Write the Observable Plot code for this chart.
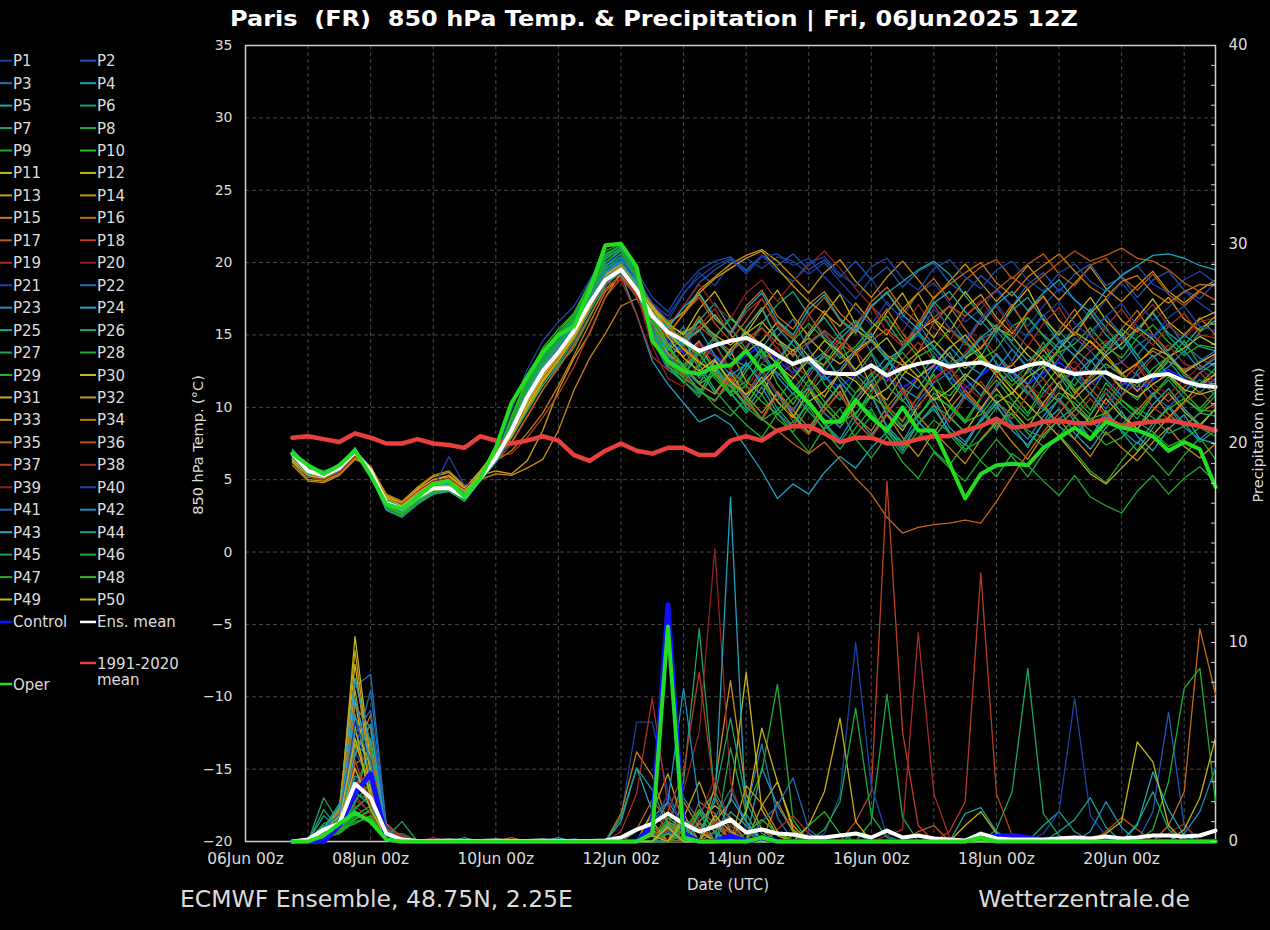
<!DOCTYPE html>
<html>
<head>
<meta charset="utf-8">
<script src="https://cdn.jsdelivr.net/npm/d3@7"></script>
<script src="https://cdn.jsdelivr.net/npm/@observablehq/plot@0.6"></script>
<style>
  html, body { margin:0; padding:0; background:#000; }
  #chart { position:relative; width:1270px; height:930px; background:#000; overflow:hidden; }
  #chart > svg { position:absolute; left:0; top:0; }
</style>
</head>
<body>
<div id="chart"></div>
<script>
// ---------------- DATA ----------------
// 6-hourly steps from 06Jun2025 18z (index 0) to 21Jun2025 12z (index 59)
const startTime = "2025-06-06T18:00Z";
const stepHours = 6;
const dateTicks = ["2025-06-06","2025-06-08","2025-06-10","2025-06-12","2025-06-14","2025-06-16","2025-06-18","2025-06-20"];
const tempTicks = [-20,-15,-10,-5,0,5,10,15,20,25,30,35];
const precipTicks = [0,10,20,30,40];

const memberNames = ["P1","P2","P3","P4","P5","P6","P7","P8","P9","P10","P11","P12","P13","P14","P15","P16","P17","P18","P19","P20",
  "P21","P22","P23","P24","P25","P26","P27","P28","P29","P30","P31","P32","P33","P34","P35","P36","P37","P38","P39","P40",
  "P41","P42","P43","P44","P45","P46","P47","P48","P49","P50"];

// 850 hPa temperature of each member (°C)
const T01 = [6.6,5.5,5.2,5.6,7.0,5.7,3.3,2.8,3.7,4.5,4.6,4.0,5.2,6.6, 8.6,10.8,12.6,14.0,15.6,17.5,19.2,19.9, 19.0,17.2,16.0,17.8,19.3,18.4,19.9,20.3,19.6,20.4, 20.1,19.2,20.0,18.7,17.5,18.9,17.1,16.2,17.9,18.6, 17.2,15.9,16.8,18.1,16.9,15.6,17.0,18.2,17.5,16.1, 17.4,18.6,17.3,16.0,16.9,18.0,17.2,16.4];
const T02 = [6.9,5.7,5.4,5.9,7.1,5.5,3.1,2.7,3.4,4.1,4.4,3.7,5.0,6.3, 8.2,10.4,12.4,13.9,15.5,17.6,19.5,20.3, 19.2,16.8,15.4,17.0,18.6,19.5,20.2,19.4,20.5,19.8, 20.6,19.5,20.2,19.0,20.1,18.8,19.7,18.3,19.4,20.0, 18.6,17.8,19.1,18.2,17.0,18.5,19.3,18.0,19.2,19.9, 18.4,19.0,17.6,18.8,19.4,18.1,17.5,18.6];
const T03 = [6.4,5.3,5.1,5.8,6.8,5.8,3.6,3.2,4.0,4.8,5.0,4.2,5.4,6.9, 9.0,11.4,13.2,14.6,16.0,17.8,19.6,20.1, 18.5,15.9,14.2,15.6,13.1,14.8,16.3,15.0,13.4,14.9, 16.1,14.0,12.5,13.9,15.6,13.8,12.2,14.1,15.8,14.2, 13.0,14.6,16.0,14.8,13.2,15.1,16.4,14.7,13.5,15.2, 16.3,15.0,13.6,14.9,15.8,14.3,13.4,12.8];
const T04 = [6.7,5.6,5.3,5.7,6.9,5.6,3.4,2.9,3.8,4.3,4.5,3.9,5.1,6.5, 8.3,10.6,12.4,13.6,15.0,16.9,18.6,19.4, 17.8,14.9,13.0,12.2,14.1,12.6,11.0,12.8,14.0,12.1, 10.9,12.4,13.7,11.8,10.5,12.2,13.5,11.3,10.6,12.5, 13.8,12.0,10.8,12.6,14.0,12.7,11.2,10.4,12.1,13.3, 11.9,10.8,12.5,13.6,12.2,11.0,12.4,13.1];
const T05 = [6.8,5.6,5.2,5.6,6.8,5.5,3.5,3.1,3.9,4.4,4.3,3.7,5.0,6.4, 8.1,10.2,12.0,13.5,15.1,17.0,18.9,19.6, 18.0,15.6,13.9,14.8,12.6,11.0,12.5,10.6,9.2,11.0, 9.5,8.3,10.2,11.6,9.4,8.1,9.6,11.1,9.0,7.9, 9.3,10.9,9.8,8.4,10.1,11.5,10.0,8.7,7.8,9.5, 11.0,9.6,8.5,10.2,11.3,9.9,8.8,9.9];
const T06 = [6.5,5.4,5.3,5.9,7.0,5.9,3.7,3.2,4.1,4.7,4.9,4.1,5.4,6.9, 9.1,11.5,13.4,14.7,16.0,17.9,19.8,20.4, 18.8,16.2,15.0,14.1,16.0,17.2,15.5,14.0,15.8,17.1, 18.0,16.4,14.8,13.9,15.7,17.0,15.9,14.3,15.6,17.3, 16.1,14.6,13.5,15.3,16.7,17.6,16.0,14.5,15.0,16.8, 15.5,14.0,15.4,16.6,14.9,13.8,15.2,16.0];
const T07 = [6.9,5.7,5.4,5.8,7.0,5.5,3.2,2.8,3.6,4.3,4.4,3.8,5.2,6.6, 8.7,11.1,12.9,14.2,15.7,17.8,20.0,20.9, 19.2,15.4,13.5,14.2,12.0,13.3,11.6,10.2,11.8,9.9, 8.7,10.5,9.0,7.6,9.1,10.8,8.6,7.3,8.8,10.2, 8.1,6.9,8.5,10.0,8.8,7.2,9.0,10.6,9.4,7.8, 9.8,8.3,7.0,8.6,10.1,8.9,7.6,8.4];
const T08 = [6.6,5.5,5.3,5.7,6.9,5.7,3.5,3.0,3.8,4.6,4.7,4.0,5.3,6.7, 9.3,11.8,13.6,14.9,16.1,18.2,20.4,21.1, 19.6,15.9,14.0,15.3,12.8,14.4,12.6,11.5,13.6,14.8, 12.7,11.4,13.0,14.6,12.3,11.1,12.8,14.2,15.3,13.4, 11.9,13.2,14.9,13.0,11.8,12.9,14.5,12.4,11.5,13.1, 14.4,15.2,13.6,12.1,13.3,14.6,12.9,12.3];
const T09 = [7.0,5.8,5.5,6.0,7.2,5.3,2.9,2.5,3.4,4.0,4.2,3.6,5.0,6.4, 8.9,11.4,13.3,14.6,15.9,18.0,20.2,21.0, 19.3,15.2,12.8,11.7,13.0,11.2,9.9,8.8,7.9,9.6, 8.2,6.9,8.6,9.9,7.8,6.5,8.0,6.2,5.1,6.9, 5.8,4.9,6.4,7.8,6.6,5.2,6.8,8.1,6.9,5.6, 4.8,6.3,7.6,6.5,5.3,6.7,7.9,6.4];
const T10 = [6.8,5.6,5.3,5.8,7.0,5.6,3.3,2.9,3.7,4.4,4.5,3.9,5.2,6.6, 9.4,12.0,14.1,15.4,16.5,18.6,21.1,21.4, 19.8,14.9,12.8,12.1,13.8,12.0,10.9,12.5,13.9,11.6, 10.2,11.9,10.4,9.2,11.0,12.4,10.1,9.0,10.8,12.3, 10.3,9.1,10.7,12.2,11.0,9.6,11.4,12.8,11.2,9.8, 11.7,10.5,9.5,10.9,12.1,11.0,9.9,11.1];
const T11 = [6.3,5.2,5.1,5.7,6.7,5.9,3.8,3.4,4.3,5.0,5.3,4.4,5.6,7.0, 8.8,11.0,12.7,14.0,15.5,17.4,19.3,20.0, 18.7,17.1,15.6,14.5,15.3,16.4,15.0,13.8,14.6,15.9, 14.8,13.5,12.9,14.2,15.4,14.6,13.3,14.0,15.3,16.0, 14.7,13.4,14.1,15.5,14.9,13.6,12.8,14.0,15.2,14.5, 13.6,14.4,15.5,14.7,13.5,14.1,14.9,14.3];
const T12 = [6.6,5.5,5.3,5.8,7.0,5.7,3.4,3.0,3.9,4.6,4.7,4.0,5.3,6.7, 8.5,10.6,12.4,13.8,15.3,17.3,19.2,19.9, 18.9,16.9,15.8,15.0,16.8,18.0,16.2,15.1,16.7,18.1, 16.3,14.9,16.4,17.8,15.7,14.8,16.6,17.9,16.0,14.8, 16.5,18.0,16.6,15.2,16.9,18.2,16.1,15.0,16.3,17.6, 16.0,14.9,16.2,17.5,15.9,15.0,16.1,16.6];
const T13 = [6.2,5.0,4.9,5.4,6.5,5.8,3.9,3.4,4.4,5.2,5.5,4.5,5.3,5.6, 5.4,6.3,8.4,11.2,13.4,15.1,17.6,19.3, 18.4,16.3,14.4,13.5,14.6,12.3,13.9,11.8,10.9,12.9, 14.0,12.0,10.7,12.4,13.8,11.4,10.5,12.2,13.6,11.3, 10.4,12.0,13.5,12.2,10.9,12.6,14.0,12.5,11.0,12.2, 13.6,12.4,11.1,12.3,13.5,12.4,11.4,12.3];
const T14 = [6.7,5.5,5.2,5.7,6.9,5.6,3.4,3.0,3.8,4.4,4.5,3.8,5.1,6.5, 8.2,10.3,12.1,13.6,15.1,17.1,18.9,19.7, 18.6,17.0,15.9,16.5,18.1,19.0,19.9,20.5,20.9,20.1, 19.0,17.9,19.3,20.2,18.7,17.6,19.0,20.1,18.8,17.5, 18.7,19.9,18.6,17.3,18.5,19.8,18.5,17.4,18.6,19.7, 18.2,17.3,18.4,19.4,18.0,17.2,18.1,18.8];
const T15 = [6.9,5.7,5.4,5.9,7.1,5.4,3.1,2.6,3.5,4.1,4.3,3.7,5.0,6.3, 7.0,8.2,9.6,11.5,13.6,15.8,18.0,19.1, 17.9,15.0,13.3,12.5,11.2,10.4,12.0,10.6,9.2,11.1, 9.8,8.6,10.1,11.5,9.3,8.4,10.0,11.3,9.4,8.2, 9.9,11.2,10.0,8.6,10.1,11.6,10.2,8.8,9.8,11.0, 9.6,8.5,9.8,11.0,9.5,8.7,9.6,10.3];
const T16 = [6.5,5.3,5.1,5.6,6.8,5.8,3.6,3.1,4.0,4.7,4.9,4.1,5.3,6.7, 8.0,10.0,11.9,13.4,15.0,17.0,18.8,19.5, 18.3,16.5,15.3,14.5,16.3,14.8,13.6,15.5,16.9,14.7, 13.5,15.2,16.7,15.0,13.6,15.4,16.8,15.1,13.8,15.9, 17.0,15.4,14.0,15.6,17.1,15.3,13.9,15.3,16.8,15.0, 13.8,15.4,16.7,15.0,13.9,15.0,16.2,15.0];
const T17 = [6.8,5.6,5.3,5.8,7.0,5.6,3.3,2.9,3.7,4.3,4.4,3.8,5.1,6.5, 8.4,10.5,12.4,13.8,15.4,17.3,19.0,19.8, 18.2,16.1,15.0,16.5,17.6,15.8,14.6,16.0,17.5,15.6, 14.7,16.4,17.6,16.0,15.1,16.9,18.0,16.5,17.9,18.9, 17.4,18.8,19.7,20.2,18.9,19.9,20.6,19.2,18.4,19.8, 20.3,19.0,18.1,19.2,17.8,17.0,18.0,17.4];
const T18 = [6.4,5.2,5.0,5.5,6.6,5.7,3.7,3.3,4.2,4.9,5.1,4.3,5.2,6.2, 7.5,9.3,11.2,12.8,14.4,16.3,18.2,19.1, 17.6,15.3,13.8,12.9,14.5,12.8,11.6,10.9,12.6,11.0, 9.8,11.5,10.0,8.9,10.6,11.9,10.0,9.1,10.8,12.0, 12.8,11.0,9.9,11.5,12.6,11.1,10.0,11.7,12.7,11.3, 10.2,11.8,12.9,11.3,10.4,11.4,12.4,11.3];
const T19 = [6.7,5.5,5.2,5.7,6.9,5.6,3.4,3.0,3.8,4.5,4.6,3.9,5.1,6.5, 8.1,10.1,11.9,13.4,15.0,16.9,18.7,19.6, 18.4,15.6,13.1,12.7,14.3,13.5,12.6,14.2,15.5,14.0, 12.9,12.1,13.6,14.8,13.9,12.5,11.8,13.3,14.5,13.2, 12.4,13.8,14.9,13.6,12.3,12.9,14.2,13.5,12.6,13.9, 14.6,13.1,12.2,13.4,14.3,13.0,12.6,13.6];
const T20 = [6.6,5.4,5.2,5.7,6.9,5.7,3.5,3.0,3.9,4.5,4.7,4.0,5.2,6.6, 8.3,10.4,12.2,13.6,15.2,17.2,19.1,19.8, 18.9,16.8,15.6,17.0,18.5,17.0,16.1,17.9,18.8,17.3, 18.7,19.8,20.8,19.6,18.2,17.0,16.0,15.2,17.1,15.5, 14.6,16.3,17.4,16.0,14.9,16.5,17.6,16.0,15.0,16.6, 15.3,14.6,16.0,17.1,15.6,14.8,15.9,16.2];
const T21 = [6.8,5.6,5.4,5.9,7.0,5.5,3.2,2.8,3.6,4.3,4.4,3.8,5.1,6.5, 9.8,12.6,14.6,15.9,17.0,18.8,20.6,21.0, 19.4,17.6,16.6,18.3,19.5,20.1,20.4,19.5,20.5,19.4, 18.7,20.0,20.4,19.2,18.4,19.7,20.3,18.9,18.1,19.6, 20.2,19.0,18.2,19.5,20.1,18.8,18.0,19.3,19.9,18.7, 18.0,19.2,19.8,18.5,17.9,18.8,19.4,18.6];
const T22 = [6.5,5.4,5.2,5.8,6.9,5.8,3.6,3.1,4.0,4.7,4.9,4.1,5.4,6.8, 9.2,11.6,13.4,14.7,16.0,17.9,19.6,20.1, 18.6,16.4,15.9,14.2,13.1,12.4,13.8,14.9,13.5,12.2, 13.0,14.4,15.2,13.6,12.5,11.7,13.0,14.1,15.0,13.8, 12.6,13.5,14.7,15.3,14.0,12.8,12.0,13.4,14.8,13.9, 12.7,13.1,14.3,15.0,13.7,12.5,13.2,13.9];
const T23 = [6.9,5.7,5.4,5.8,7.0,5.5,3.3,2.8,3.7,4.2,4.3,3.7,5.0,6.4, 8.6,10.9,12.7,14.0,15.4,17.3,19.1,19.8, 18.1,14.7,12.6,11.8,10.9,12.8,11.0,9.8,11.4,9.6, 8.6,10.5,8.9,7.8,9.6,10.9,8.7,7.6,9.5,10.6, 8.6,7.6,9.2,10.5,8.9,7.8,9.4,10.6,9.0,7.9, 9.5,8.4,7.5,8.9,10.0,8.6,7.8,8.7];
const T24 = [6.7,5.5,5.3,5.7,6.8,5.6,3.4,3.0,3.9,4.4,4.5,3.9,5.1,6.5, 8.5,10.8,12.6,13.9,15.3,17.1,18.6,19.2, 16.4,13.2,11.6,10.3,9.0,9.5,8.8,7.2,5.6,3.7, 4.7,4.0,5.5,6.6,5.8,7.2,8.3,7.0,8.9,9.9, 8.3,7.4,9.1,10.2,8.4,7.4,8.9,9.9,8.2,7.1, 8.6,9.7,8.0,7.0,8.5,9.5,7.8,7.5];
const T25 = [6.4,5.3,5.1,5.7,6.8,5.8,3.7,3.2,4.1,4.8,5.0,4.2,5.4,6.8, 8.9,11.2,13.0,14.3,15.8,17.6,19.4,20.1, 18.7,16.4,15.0,14.3,16.1,14.6,13.6,15.5,16.8,14.7, 13.6,15.1,16.2,14.7,15.8,17.0,17.9,18.7,19.5,20.1, 19.2,17.7,16.4,15.5,14.6,16.2,15.0,14.1,15.5,16.5, 15.0,14.0,15.4,16.5,15.1,14.3,15.5,16.0];
const T26 = [7.0,5.8,5.5,6.0,7.2,5.4,3.0,2.6,3.4,4.1,4.3,3.7,5.1,6.5, 8.0,9.9,11.5,12.9,14.1,16.2,18.4,19.4, 18.0,15.2,13.6,12.6,14.0,12.7,11.4,13.1,11.6,10.5, 12.0,13.6,11.6,10.5,12.2,13.7,11.5,10.4,12.0,13.5, 11.8,10.6,12.3,13.7,12.0,10.9,12.6,13.9,12.1,10.9, 12.6,11.4,10.5,12.0,13.2,11.9,11.0,12.0];
const T27 = [6.6,5.5,5.3,5.8,6.9,5.7,3.5,3.0,3.8,4.5,4.6,4.0,5.3,6.7, 9.0,11.5,13.4,14.8,16.2,18.2,20.3,21.0, 19.2,15.2,13.1,12.3,11.0,12.9,11.4,10.1,11.8,10.4, 9.3,10.9,12.2,10.8,9.5,11.2,12.4,10.5,9.3,11.0, 10.0,8.9,10.6,11.9,10.5,9.4,11.0,12.2,10.6,9.5, 11.3,10.2,9.2,10.8,11.9,10.6,9.7,10.8];
const T28 = [6.9,5.7,5.4,5.9,7.1,5.5,3.1,2.6,3.5,4.2,4.4,3.7,5.1,6.5, 9.1,11.6,13.5,14.9,16.3,18.4,20.6,21.2, 19.4,15.0,12.9,11.8,10.7,12.5,11.0,9.6,10.9,9.2, 8.3,10.0,8.4,7.1,8.6,9.9,8.0,6.8,8.4,7.0, 6.0,7.5,6.3,5.2,6.8,6.0,4.9,3.9,5.3,3.8, 3.2,2.7,4.2,5.3,4.0,5.1,5.9,4.8];
const T29 = [6.5,5.4,5.2,5.7,6.8,5.8,3.6,3.1,4.0,4.6,4.8,4.1,5.3,6.7, 8.7,11.0,12.9,14.3,15.7,17.6,19.6,20.3, 18.8,16.6,15.9,14.4,13.6,14.9,16.1,15.2,13.8,13.1, 14.6,15.8,14.7,13.4,14.2,15.5,16.3,14.8,13.5,14.1, 15.4,14.5,13.3,14.0,15.6,16.2,14.9,13.8,14.4,15.5, 14.2,13.4,14.8,15.7,14.5,13.6,14.3,14.1];
const T30 = [6.8,5.6,5.3,5.8,7.0,5.6,3.4,2.9,3.7,4.4,4.5,3.8,5.1,6.5, 8.0,10.0,11.8,13.2,14.8,16.8,18.7,19.5, 18.1,15.4,13.7,12.8,11.7,13.2,11.8,10.6,12.1,10.4, 9.3,11.2,9.6,8.6,10.2,11.6,9.5,8.4,10.1,11.4, 9.3,8.3,9.9,11.3,9.8,8.6,10.3,11.7,10.0,8.9, 10.6,9.4,8.5,9.8,11.0,9.7,8.7,9.9];
const T31 = [6.3,5.2,5.0,5.6,6.7,5.9,3.8,3.3,4.3,5.0,5.2,4.4,5.5,6.9, 8.4,10.5,12.3,13.7,15.2,17.2,19.1,19.9, 18.5,16.8,15.7,15.1,15.9,15.0,14.3,15.1,15.9,14.7, 13.9,14.8,13.7,13.0,13.9,14.7,13.6,12.9,13.8,14.6, 13.5,12.7,13.6,12.5,11.3,10.2,9.1,8.0,6.7,5.4, 4.7,5.8,6.9,8.1,9.3,10.4,11.6,12.3];
const T32 = [6.7,5.5,5.3,5.8,6.9,5.6,3.4,3.0,3.8,4.5,4.6,4.0,5.2,6.6, 7.9,9.8,11.7,13.2,14.8,16.8,18.7,19.6, 18.7,16.8,15.7,16.6,17.9,18.9,19.6,20.3,20.8,19.6, 18.4,17.3,16.5,15.6,17.2,15.9,15.0,16.8,17.9,16.1, 15.2,16.9,17.8,16.2,15.1,16.6,17.7,16.0,15.0,16.5, 17.5,16.0,15.2,16.6,17.6,16.1,15.3,16.3];
const T33 = [6.0,4.9,4.8,5.3,6.4,5.9,4.0,3.5,4.5,5.3,5.6,4.6,5.0,5.4, 5.3,5.8,6.4,8.4,11.2,13.4,15.1,17.0, 17.5,15.8,14.1,12.8,11.6,10.9,12.4,10.8,9.6,11.0, 9.4,8.2,9.8,11.1,9.0,7.9,9.5,7.9,6.6,8.3, 7.2,6.1,7.8,9.0,7.6,6.4,8.1,9.2,7.8,6.6, 8.3,7.2,6.3,7.6,8.6,7.3,6.5,7.5];
const T34 = [6.9,5.7,5.4,5.9,7.1,5.5,3.2,2.7,3.6,4.2,4.4,3.7,5.0,6.4, 8.3,10.4,12.2,13.6,15.2,17.2,19.0,19.8, 18.4,16.2,15.1,16.4,17.8,16.1,15.2,17.0,18.1,16.3, 15.4,17.1,18.0,16.5,15.5,17.3,18.3,16.8,15.8,17.6, 18.5,19.3,20.0,18.6,17.7,19.0,19.8,20.6,19.4,18.3, 17.6,18.7,19.1,17.9,17.2,18.0,18.5,18.4];
const T35 = [6.5,5.3,5.1,5.6,6.7,5.8,3.6,3.2,4.1,4.8,5.0,4.2,5.3,6.6, 7.6,9.4,11.2,12.7,14.3,16.3,18.2,19.1, 17.9,16.0,14.8,14.1,13.2,12.3,11.4,10.3,9.2,8.4, 7.5,6.8,7.6,6.4,5.1,4.0,2.4,1.3,1.7,1.9, 2.0,2.2,2.0,3.5,5.2,6.8,8.3,9.6,10.9,12.1, 13.0,12.3,13.1,13.9,13.2,12.6,13.1,13.7];
const T36 = [6.8,5.6,5.3,5.7,6.9,5.6,3.4,2.9,3.7,4.4,4.5,3.9,5.1,6.5, 8.2,10.3,12.1,13.5,15.1,17.0,18.9,19.7, 18.3,16.5,15.4,14.8,15.6,14.7,13.9,14.7,15.5,14.4, 13.7,14.5,15.3,14.4,13.7,14.6,15.4,14.5,15.3,16.2, 17.0,16.3,17.2,18.1,19.0,18.2,19.1,20.0,20.8,20.1, 20.5,21.0,20.3,20.1,19.5,18.6,18.0,17.4];
const T37 = [6.6,5.4,5.2,5.7,6.8,5.7,3.5,3.1,3.9,4.6,4.7,4.0,5.2,6.6, 6.8,7.9,9.3,10.9,12.8,15.2,17.6,18.9, 17.7,14.9,13.1,12.2,11.1,10.4,12.2,10.4,9.1,10.9, 9.0,8.1,9.8,11.0,9.0,7.9,9.6,10.9,12.0,10.2, 9.0,10.7,11.8,10.3,9.2,10.9,12.0,10.4,9.3,10.6, 9.4,10.8,11.7,10.0,9.2,10.3,11.1,10.0];
const T38 = [6.4,5.2,5.0,5.5,6.6,5.8,3.7,3.3,4.2,4.9,5.1,4.3,5.4,6.8, 8.6,10.9,12.6,14.0,15.5,17.3,18.5,18.8, 16.4,13.5,12.6,14.1,15.6,16.8,15.0,16.6,17.5,15.8, 14.8,16.4,15.0,14.1,15.8,17.0,15.2,14.2,15.9,17.1, 15.4,14.3,16.0,17.0,15.3,14.2,15.8,16.9,15.1,14.1, 15.6,16.8,15.3,14.3,15.6,16.5,15.0,14.8];
const T39 = [6.7,5.5,5.3,5.8,6.9,5.6,3.3,2.9,3.7,4.4,4.5,3.9,5.1,6.5, 8.1,10.2,12.0,13.5,15.0,16.9,18.6,19.3, 17.9,14.2,12.0,11.4,13.2,14.3,12.5,11.3,13.0,14.2, 12.2,11.0,12.9,14.0,12.0,10.9,12.7,11.0,9.9,11.8, 12.8,11.5,10.6,12.2,13.1,11.6,10.7,12.3,13.2,11.8, 10.9,12.3,13.1,11.6,10.9,11.9,12.8,11.7];
const T40 = [6.8,5.7,5.4,5.9,7.1,5.6,3.3,2.8,3.6,4.4,6.6,4.6,4.9,6.2, 8.5,10.7,12.5,14.0,15.6,17.5,19.3,20.0, 18.9,17.2,16.3,17.9,19.0,19.8,20.3,19.2,20.4,20.6, 19.8,20.3,19.0,17.9,16.8,15.7,17.3,16.0,15.0,16.8, 15.5,14.6,16.2,17.2,15.6,14.9,16.3,17.3,15.8,14.9, 16.3,17.2,15.6,14.9,16.2,17.0,15.6,15.3];
const T41 = [6.5,5.3,5.1,5.6,6.8,5.8,3.6,3.2,4.0,4.7,4.9,4.1,5.3,6.7, 9.0,11.4,13.2,14.5,15.9,17.8,19.7,20.3, 18.9,15.4,13.5,12.6,11.6,13.4,11.8,10.7,12.4,10.8, 9.7,11.5,9.6,8.6,10.5,11.8,9.6,8.6,10.4,11.7, 12.4,10.7,9.7,11.4,12.5,11.0,9.8,11.6,12.5,10.9, 9.9,11.5,12.3,10.8,10.0,11.1,11.9,10.8];
const T42 = [6.9,5.7,5.4,5.8,7.0,5.5,3.2,2.8,3.6,4.3,4.4,3.8,5.1,6.5, 8.7,11.0,12.8,14.2,15.6,17.5,19.3,20.0, 18.6,15.1,13.4,14.5,15.4,13.6,12.2,13.0,11.8,13.3, 14.7,13.1,11.9,12.6,14.0,15.1,13.4,12.1,11.3,12.9, 14.2,13.0,12.3,13.7,12.5,11.6,13.2,14.5,13.6,12.4, 13.8,14.9,13.3,12.0,12.8,13.9,12.6,13.4];
const T43 = [6.6,5.4,5.2,5.7,6.8,5.7,3.5,3.1,3.9,4.6,4.7,4.0,5.2,6.6, 8.4,10.6,12.4,13.8,15.3,17.2,19.0,19.7, 18.4,16.6,15.5,16.9,17.9,16.2,15.1,16.8,17.9,16.0, 15.0,16.8,17.8,16.1,15.2,17.0,17.9,16.4,15.4,17.2, 18.0,16.6,15.7,17.1,18.0,16.7,17.9,18.8,17.4,16.6, 18.1,19.1,19.8,20.5,20.6,20.3,19.8,19.5];
const T44 = [7.1,5.9,5.6,6.0,7.2,5.3,2.9,2.4,3.3,4.0,4.2,3.5,4.9,6.2, 7.9,9.7,11.5,13.0,14.6,16.6,18.5,19.4, 18.1,15.2,13.9,14.8,16.0,14.9,13.4,12.8,14.1,15.5, 14.3,13.0,13.8,15.1,16.0,14.6,13.3,14.0,15.2,14.1, 12.9,13.6,14.8,15.7,14.4,13.2,14.1,15.3,14.0,13.1, 14.2,15.4,14.6,13.5,14.0,15.0,14.2,13.9];
const T45 = [6.5,5.4,5.2,5.7,6.8,5.8,3.6,3.1,4.0,4.7,4.8,4.1,5.3,6.7, 8.9,11.3,13.1,14.4,15.9,17.8,19.8,20.6, 18.9,16.0,14.4,12.6,11.1,10.5,11.6,10.0,9.1,9.8, 11.0,9.7,8.5,9.2,10.4,9.6,8.3,7.6,8.9,10.1, 9.4,8.2,9.0,10.3,9.5,8.4,7.9,9.2,10.0,9.1, 8.1,8.8,9.9,9.3,8.2,8.7,9.6,9.4];
const T46 = [6.8,5.6,5.3,5.8,7.0,5.6,3.3,2.9,3.7,4.4,4.5,3.8,5.2,6.6, 9.2,11.7,13.6,15.0,16.4,18.4,20.5,21.2, 19.5,16.3,14.1,12.9,13.7,12.2,11.1,11.8,13.0,12.4, 11.2,12.6,13.5,12.1,11.0,11.8,12.9,13.8,12.5,11.3, 10.8,12.1,13.3,12.6,11.5,12.4,13.6,12.3,11.2,11.9, 13.0,12.2,11.4,12.7,13.5,12.2,11.6,12.7];
const T47 = [6.7,5.5,5.3,5.8,6.9,5.7,3.4,3.0,3.8,4.5,4.6,3.9,5.2,6.6, 9.0,11.4,13.2,14.6,16.0,18.0,20.0,20.8, 19.0,15.9,13.1,12.0,11.3,10.1,9.4,10.6,9.2,8.3, 9.0,10.2,8.8,7.5,8.1,9.4,8.5,7.2,7.9,9.1, 8.3,7.1,7.7,8.9,9.6,8.2,7.3,8.0,9.3,8.4, 7.4,7.9,9.0,8.3,7.3,7.8,8.6,8.0];
const T48 = [6.9,5.7,5.4,5.9,7.0,5.5,3.2,2.7,3.6,4.2,4.4,3.7,5.1,6.4, 9.3,11.9,13.8,15.2,16.5,18.6,20.8,21.3, 19.6,16.4,14.2,12.9,11.6,12.3,10.8,11.5,10.4,9.5, 10.6,11.3,10.0,8.9,9.6,10.8,9.9,8.7,9.4,10.7, 10.1,9.0,9.5,10.9,10.2,9.1,9.8,11.0,10.3,9.2, 9.6,10.5,9.7,8.9,9.9,10.6,9.8,9.7];
const T49 = [6.4,5.3,5.1,5.7,6.8,5.8,3.7,3.2,4.1,4.8,5.0,4.2,5.4,6.8, 8.3,10.3,12.1,13.5,15.0,17.0,18.9,19.7, 18.2,16.6,14.9,13.4,12.5,13.3,11.8,10.9,11.7,12.8, 11.6,10.4,11.1,12.4,11.8,10.6,11.3,12.6,11.9,10.5, 11.2,12.3,11.5,10.3,11.0,12.1,12.8,11.4,10.6,11.7, 12.5,11.3,10.7,11.6,12.3,11.2,10.9,11.2];
const T50 = [6.7,5.5,5.2,5.7,6.9,5.6,3.4,3.0,3.8,4.5,4.6,3.9,5.2,6.6, 8.0,10.1,11.9,13.3,14.9,16.9,18.8,19.6, 18.3,16.9,15.2,14.0,13.1,12.5,14.0,15.2,14.3,12.9, 12.0,13.3,14.6,13.8,12.6,13.9,14.8,13.2,12.1,12.9, 14.1,15.0,13.7,12.4,12.9,14.2,13.3,12.1,13.5,14.6, 13.4,12.3,13.0,14.1,13.6,12.4,13.1,13.7];

const controlTemp = [6.8,5.6,5.3,5.8,7.0,5.6,3.2,2.8,3.7,4.4,4.5,3.9,5.2,6.6, 8.8,11.2,13.0,14.4,15.8,17.8,19.9,20.6, 19.0,16.2,14.6,13.8,14.5,13.6,12.8,13.6,14.3,13.2, 12.4,13.2,12.1,11.4,12.3,13.0,12.0,11.3,12.1,12.9, 12.0,11.3,12.2,13.0,12.3,11.6,12.4,13.1,12.3,11.6, 12.4,11.8,11.2,11.9,12.6,12.0,11.4,11.9];
const meanTemp = [6.8,5.6,5.3,5.8,6.9,5.6,3.4,3.0,3.8,4.4, 4.4,3.8,5.1,6.5,8.4,10.7,12.5,13.8,15.3,17.2, 18.8,19.5,18.1,16.3,15.2,14.6,13.9,14.3,14.6,14.8, 14.3,13.6,13.0,13.4,12.4,12.3,12.3,12.9,12.2,12.7, 13.0,13.2,12.8,13.0,13.1,12.7,12.5,12.9,13.1,12.6, 12.3,12.4,12.4,11.9,11.8,12.2,12.3,11.8,11.5,11.4];
const operTemp = [6.8,6.0,5.4,6.0,7.0,5.3,3.3,3.0,3.8,4.7,4.9,3.8,5.1,7.2, 10.3,12.1,13.8,15.0,15.6,18.1,21.2,21.3, 19.7,14.6,13.2,12.5,12.3,12.8,12.9,13.9,12.5,13.0, 11.4,10.3,9.0,9.0,10.5,9.3,8.4,10.0,8.4,8.4, 6.1,3.7,5.4,6.0,6.1,6.0,7.2,7.9,8.6,7.8, 9.0,8.6,8.4,8.0,7.0,7.6,7.1,4.5];
const climTemp = [7.9,8.0,7.8,7.6,8.2,7.9,7.5,7.5,7.8,7.5, 7.4,7.2,8.0,7.7,7.5,7.7,8.0,7.7,6.7,6.3, 7.0,7.5,7.0,6.8,7.2,7.2,6.7,6.7,7.7,8.0, 7.7,8.4,8.7,8.7,8.2,7.6,7.9,7.9,7.5,7.5, 7.8,8.0,8.0,8.4,8.7,9.2,8.6,8.7,9.0,9.1, 8.9,8.9,9.2,8.7,8.9,9.0,9.1,8.9,8.7,8.4];

// Precipitation (mm per 6 h) of each member, listed as [step, value]; other steps are 0
const R01 = [[2,.3],[3,.9],[4,3.2],[5,2.0],[6,.3],[21,1.2],[22,6.0],[23,6.0],[24,2.5],[25,.6],[27,.4],[44,.3]];
const R02 = [[2,.5],[3,1.2],[4,4.5],[5,3.0],[6,.2],[24,1.0],[25,.5],[28,.8],[55,1.5],[56,6.5],[57,.8]];
const R03 = [[2,.2],[3,1.5],[4,7.8],[5,8.4],[6,.8],[7,.1],[25,2.2],[26,1.0],[29,1.5],[30,4.9],[31,1.2],[33,.4]];
const R04 = [[2,.4],[3,.8],[4,5.5],[5,3.8],[6,.4],[22,.5],[23,1.2],[24,2.0],[25,.8],[30,3.7],[31,1.8],[32,.5]];
const R05 = [[1,.1],[2,.6],[3,1.4],[4,4.9],[5,4.2],[6,.2],[17,.2],[21,1.0],[22,3.7],[23,1.5],[24,.6],[28,.4]];
const R06 = [[2,1.3],[3,.6],[4,2.5],[5,1.8],[6,.2],[7,.1],[23,.6],[26,1.4],[27,2.5],[28,1.0],[48,.8],[49,1.5],[50,.5]];
const R07 = [[2,2.2],[3,.9],[4,1.6],[5,2.4],[6,.1],[24,.8],[25,3.0],[26,10.7],[27,2.2],[28,.5],[36,.4]];
const R08 = [[2,.8],[3,.5],[4,1.9],[5,5.2],[6,.3],[7,.4],[23,.3],[26,.9],[37,1.0],[38,7.4],[39,1.2]];
const R09 = [[2,.3],[3,.4],[4,1.2],[5,1.5],[6,.2],[24,.5],[29,1.6],[30,3.5],[31,7.9],[32,1.1]];
const R10 = [[2,.2],[3,.6],[4,1.4],[5,1.0],[6,.1],[24,.6],[28,.3],[32,.3]];
const R11 = [[2,.5],[3,1.1],[4,10.3],[5,4.0],[6,.5],[23,.4],[26,1.0],[27,1.8],[28,1.2],[29,.5]];
const R12 = [[2,.7],[3,1.6],[4,8.9],[5,3.2],[6,.3],[24,.4],[27,1.0],[28,2.0],[29,8.5],[30,1.6],[31,.3]];
const R13 = [[2,.6],[3,1.3],[4,7.6],[5,2.7],[6,.4],[23,1.5],[24,3.4],[25,.9],[30,1.8],[31,3.0],[32,.8]];
const R14 = [[2,.4],[3,1.7],[4,6.2],[5,5.0],[6,.6],[23,.6],[25,1.4],[27,2.8],[28,8.1],[29,2.4],[30,.6]];
const R15 = [[2,.3],[3,1.2],[4,8.2],[5,4.6],[6,.2],[21,1.4],[22,4.5],[23,3.3],[24,.9],[25,.3],[31,2.0],[32,.5]];
const R16 = [[2,.5],[3,.9],[4,4.3],[5,6.4],[6,.9],[7,.2],[14,.2],[25,.5],[27,1.1],[56,.8],[57,2.5],[58,10.7],[59,7.4]];
const R17 = [[2,.2],[3,.7],[4,3.6],[5,2.2],[6,.3],[24,.7],[26,1.6],[27,.9],[40,.5],[41,.8]];
const R18 = [[2,.4],[3,.8],[4,2.9],[5,1.9],[6,.5],[7,.3],[23,.5],[26,1.0],[36,1.0],[37,2.5],[38,18.1],[39,5.5],[40,.8]];
const R19 = [[2,.3],[3,1.1],[4,2.3],[5,1.4],[6,.2],[21,.5],[22,2.4],[23,7.2],[24,1.8],[25,.4],[31,.6],[32,1.3],[33,.4]];
const R20 = [[2,.2],[3,.5],[4,1.8],[5,1.1],[6,.6],[7,.2],[24,.8],[25,2.6],[26,5.5],[27,14.7],[28,3.0],[29,.6]];
const R21 = [[2,.3],[3,.6],[4,5.1],[5,3.4],[6,.3],[24,.5],[34,.4],[35,2.3],[36,10.0],[37,2.8],[38,.3]];
const R22 = [[2,.5],[3,1.0],[4,4.6],[5,7.6],[6,.7],[23,.4],[27,1.2],[28,2.6],[29,1.0],[31,.5]];
const R23 = [[2,.4],[3,.9],[4,6.4],[5,3.1],[6,.2],[25,1.1],[26,.6],[57,.4],[58,1.5],[59,3.7]];
const R24 = [[2,.6],[3,1.8],[4,8.2],[5,4.9],[6,.3],[24,1.0],[25,.6],[26,.5],[27,2.0],[28,17.3],[29,1.0]];
const R25 = [[2,.3],[3,1.0],[4,3.3],[5,2.8],[6,.2],[24,.6],[28,1.5],[29,.8],[43,1.4],[44,1.7],[45,.5]];
const R26 = [[2,.9],[3,1.2],[4,2.6],[5,4.8],[6,.4],[7,.1],[24,.4],[27,2.3],[28,6.2],[29,2.0],[30,.4]];
const R27 = [[2,.4],[3,.7],[4,1.7],[5,2.3],[6,.2],[23,.3],[28,4.7],[29,1.4],[31,.5]];
const R28 = [[2,.2],[3,.5],[4,1.1],[5,1.6],[6,.1],[25,.3],[55,.6],[56,3.0],[57,7.7],[58,8.7],[59,2.0]];
const R29 = [[2,.3],[3,.6],[4,.9],[5,1.3],[6,.1],[24,1.2],[25,.6],[33,.8],[34,1.5],[35,.4]];
const R30 = [[2,.4],[3,1.3],[4,7.1],[5,2.5],[6,.3],[23,1.0],[29,1.5],[30,5.7],[31,3.0],[32,.6]];
const R31 = [[2,.6],[3,.8],[4,5.8],[5,2.0],[6,.4],[24,.8],[33,.8],[34,2.5],[35,6.2],[36,1.0]];
const R32 = [[2,.5],[3,1.5],[4,9.6],[5,3.6],[6,.2],[23,.5],[25,1.2],[26,3.0],[27,1.0],[28,.4]];
const R33 = [[2,.3],[3,1.0],[4,4.9],[5,2.9],[6,.3],[24,.4],[29,2.8],[30,1.9],[31,.5]];
const R34 = [[2,.2],[3,.8],[4,6.8],[5,5.7],[6,.5],[23,.8],[25,2.0],[26,.7]];
const R35 = [[2,.4],[3,1.1],[4,3.9],[5,4.4],[6,.3],[22,.6],[23,2.1],[24,1.0],[27,.5],[28,1.2]];
const R36 = [[2,.3],[3,.7],[4,2.8],[5,3.5],[6,.6],[7,.1],[24,.9],[26,2.0],[27,1.4],[52,.5],[53,1.2],[54,.6]];
const R37 = [[2,.2],[3,.6],[4,4.1],[5,1.7],[6,.2],[24,1.5],[25,3.5],[26,8.5],[27,2.3],[28,.6],[42,.5],[43,2.0],[44,13.5],[45,2.4],[46,.3]];
const R38 = [[2,.4],[3,.9],[4,2.1],[5,1.5],[6,.8],[7,.3],[9,.2],[23,.5],[27,1.0],[28,.4],[38,.3],[39,.6],[40,10.5],[41,2.4],[42,.2]];
const R39 = [[2,.2],[3,.5],[4,3.0],[5,2.4],[6,.4],[24,.6],[26,1.2],[27,3.2],[28,.8],[56,.4],[57,.9]];
const R40 = [[2,.3],[3,.8],[4,6.0],[5,4.1],[6,.2],[18,.15],[23,.7],[24,2.4],[25,.5],[48,.4],[49,1.5],[50,7.2],[51,1.3],[52,.3]];
const R41 = [[2,.6],[3,1.4],[4,5.4],[5,6.6],[6,.5],[24,.5],[30,1.0],[31,1.8],[32,3.2],[33,.6]];
const R42 = [[2,.4],[3,1.2],[4,7.2],[5,3.9],[6,.3],[23,.6],[24,2.0],[25,7.7],[26,1.8],[27,.4],[51,.5],[52,2.0],[53,.7]];
const R43 = [[2,.5],[3,.7],[4,4.4],[5,5.9],[6,.2],[25,.8],[28,2.2],[29,1.0],[54,.8],[55,3.5],[56,1.6],[57,.3]];
const R44 = [[2,.7],[3,1.9],[4,2.4],[5,2.1],[6,.3],[7,.2],[21,1.2],[22,3.7],[23,2.6],[24,.8],[49,.5],[50,1.1],[51,2.2],[52,.7],[54,.9],[55,2.5],[56,.6]];
const R45 = [[2,1.6],[3,.6],[4,2.0],[5,3.0],[6,.2],[7,1.0],[11,.2],[24,.7],[26,1.5],[45,.6],[46,2.5],[47,8.7],[48,1.4],[49,.3]];
const R46 = [[2,.3],[3,.5],[4,1.3],[5,1.8],[6,.2],[24,.4],[34,.6],[35,2.0],[36,6.7],[37,1.3],[38,.2]];
const R47 = [[2,.2],[3,.4],[4,1.0],[5,1.2],[6,.1],[25,.6],[26,1.6],[27,.5]];
const R48 = [[2,.4],[3,.6],[4,1.5],[5,.9],[6,.1],[24,.9],[25,.4],[29,.4],[30,1.1],[31,.4]];
const R49 = [[2,.5],[3,1.0],[4,5.2],[5,2.3],[6,.3],[24,.7],[27,1.3],[28,.5],[52,.4],[53,1.0],[54,5.0],[55,4.0],[56,.8]];
const R50 = [[2,.3],[3,.9],[4,3.7],[5,1.6],[6,.2],[23,.3],[25,1.0],[26,.5],[43,.8],[44,1.5],[45,.4],[57,.6],[58,2.2],[59,5.2]];

const controlPrecip = [[3,.8],[4,2.4],[5,3.4],[6,.2],[23,.8],[24,11.9],[25,.4],[28,.3],[30,.2],[44,.3],[45,.25],[46,.3],[47,.2],[52,.2]];
const operPrecip = [[2,.3],[3,.9],[4,1.45],[5,1.0],[6,.1],[23,.4],[24,10.8],[25,.2],[30,.2],[44,.2]];
const meanPrecip = [0,.1,.6,.9,2.9,2.2,.4,.1,.02,.02, .05,.02,.02,.05,.02,.02,.05,.02,.02,.02, .05,.2,.6,.9,1.4,.9,.5,.75,1.1,.45, .6,.4,.35,.2,.2,.3,.4,.2,.55,.2, .3,.15,.1,.05,.4,.15,.1,.1,.1,.15, .2,.15,.25,.15,.2,.3,.3,.25,.3,.55];

// ---------------- STYLE ----------------
const memberColors = ["#1d3f9e","#1f58b6","#2074b6","#1f97bf","#1cabb4","#17a286","#1ba266","#1aa84a","#20ae2c","#2bba1a",
  "#bcbc1c","#c8b414","#caa114","#cc8e12","#c87a12","#c06a14","#ba5818","#bc4220","#b02a2a","#922222",
  "#1b45aa","#1f6cb6","#1f8cbc","#1ca4bf","#18a49a","#18a46e","#1aa650","#1eac30","#24b41e","#c0b818",
  "#c6ac14","#ca9c12","#c98912","#c67614","#c06616","#ba5418","#b63e1e","#a62c28","#8e2020","#1b42a6",
  "#1f68b6","#1e90bd","#1aa8ba","#17a08c","#19a460","#1aaa40","#1eae28","#2cb81a","#bcb81a","#c6ae14"];
const FONT = "DejaVu Sans, sans-serif";

// ---------------- BUILD ----------------
const W = 1270, H = 930;
const margins = {marginLeft: 245, marginRight: 55, marginTop: 45, marginBottom: 89};
const t0 = new Date(startTime).getTime();
const dateAt = i => new Date(t0 + i * stepHours * 3600e3);
const xDomain = [new Date("2025-06-06T00:00Z"), new Date("2025-06-21T12:00Z")];
const dayGrid = d3.utcDay.range(new Date("2025-06-07T00:00Z"), new Date("2025-06-21T01:00Z"));
const xTicks = dateTicks.map(s => new Date(s + "T00:00Z"));
const fmt = d3.utcFormat("%d%b %Hz");

const tempArrays = [T01,T02,T03,T04,T05,T06,T07,T08,T09,T10,T11,T12,T13,T14,T15,T16,T17,T18,T19,T20,
  T21,T22,T23,T24,T25,T26,T27,T28,T29,T30,T31,T32,T33,T34,T35,T36,T37,T38,T39,T40,
  T41,T42,T43,T44,T45,T46,T47,T48,T49,T50];
const precipLists = [R01,R02,R03,R04,R05,R06,R07,R08,R09,R10,R11,R12,R13,R14,R15,R16,R17,R18,R19,R20,
  R21,R22,R23,R24,R25,R26,R27,R28,R29,R30,R31,R32,R33,R34,R35,R36,R37,R38,R39,R40,
  R41,R42,R43,R44,R45,R46,R47,R48,R49,R50];

const series = arr => arr.map((v, i) => ({date: dateAt(i), v}));
const sparse = list => { const full = new Array(60).fill(0); list.forEach(([i, v]) => full[i] = v); return full; };

const tempRows = tempArrays.flatMap((arr, k) => arr.map((v, i) => ({m: memberNames[k], c: memberColors[k], date: dateAt(i), v})));
const precipRows = precipLists.flatMap((lst, k) => sparse(lst).map((v, i) => ({m: memberNames[k], c: memberColors[k], date: dateAt(i), v})));

const gridStyle = {stroke: "#4a4a4a", strokeDasharray: "4,3", strokeWidth: 1};

const tempPlot = Plot.plot({
  width: W, height: H, ...margins,
  style: {background: "transparent", color: "#dcdcdc", fontFamily: FONT},
  x: {type: "utc", domain: xDomain},
  y: {domain: [-20, 35]},
  color: {type: "identity"},
  marks: [
    Plot.ruleX(dayGrid, gridStyle),
    Plot.ruleY(tempTicks, gridStyle),
    Plot.line(series(controlTemp), {x: "date", y: "v", stroke: "#1a1aff", strokeWidth: 2}),
    Plot.line(tempRows, {x: "date", y: "v", z: "m", stroke: "c", strokeWidth: 1.3, strokeLinejoin: "round"}),
    Plot.line(series(climTemp), {x: "date", y: "v", stroke: "#e8403c", strokeWidth: 4.5, strokeLinejoin: "round"}),
    Plot.line(series(meanTemp), {x: "date", y: "v", stroke: "#ffffff", strokeWidth: 4, strokeLinejoin: "round"}),
    Plot.line(series(operTemp), {x: "date", y: "v", stroke: "#22dd22", strokeWidth: 4, strokeLinejoin: "round"}),
    Plot.axisY({ticks: tempTicks, tickSize: 0, tickPadding: 13, label: null, fontSize: 14}),
    Plot.axisX({ticks: xTicks, tickSize: 0, tickPadding: 11, tickFormat: fmt, label: null, fontSize: 15.5}),
    Plot.frame({stroke: "#cfcfcf", strokeWidth: 1.5})
  ]
});

const precipPlot = Plot.plot({
  width: W, height: H, ...margins,
  style: {background: "transparent", color: "#dcdcdc", fontFamily: FONT},
  x: {type: "utc", domain: xDomain, axis: null},
  y: {domain: [0, 40], axis: null},
  color: {type: "identity"},
  marks: [
    Plot.line(precipRows, {x: "date", y: "v", z: "m", stroke: "c", strokeWidth: 1.3, strokeLinejoin: "round"}),
    Plot.line(series(sparse(controlPrecip)), {x: "date", y: "v", stroke: "#1010ff", strokeWidth: 5, strokeLinejoin: "round"}),
    Plot.line(series(meanPrecip), {x: "date", y: "v", stroke: "#ffffff", strokeWidth: 4, strokeLinejoin: "round"}),
    Plot.line(series(sparse(operPrecip)), {x: "date", y: "v", stroke: "#22dd22", strokeWidth: 4, strokeLinejoin: "round"}),
    Plot.axisY({anchor: "right", ticks: d3.range(0, 41, 1), tickSize: 5, dx: -5, tickFormat: () => "", label: null, stroke: "#cfcfcf"}),
    Plot.axisY({anchor: "right", ticks: precipTicks, tickSize: 0, tickPadding: 13, label: null, fontSize: 15})
  ]
});

const chart = document.getElementById("chart");
chart.appendChild(tempPlot);
chart.appendChild(precipPlot);

// ---------------- TEXT & LEGEND overlay ----------------
const svg = d3.select(chart).append("svg").attr("width", W).attr("height", H)
  .style("font-family", FONT).style("pointer-events", "none");

svg.append("text").attr("x", 654).attr("y", 26).attr("text-anchor", "middle")
  .attr("fill", "#ffffff").attr("font-weight", "bold").attr("font-size", 22)
  .attr("textLength", 848).attr("lengthAdjust", "spacingAndGlyphs")
  .style("white-space", "pre").attr("xml:space", "preserve")
  .text("Paris  (FR)  850 hPa Temp. & Precipitation | Fri, 06Jun2025 12Z");

svg.append("text").attr("transform", "translate(203,445) rotate(-90)").attr("text-anchor", "middle")
  .attr("fill", "#dcdcdc").attr("font-size", 14.5).text("850 hPa Temp. (°C)");
svg.append("text").attr("transform", "translate(1263,435) rotate(-90)").attr("text-anchor", "middle")
  .attr("fill", "#dcdcdc").attr("font-size", 14.5).text("Precipitation (mm)");
svg.append("text").attr("x", 728).attr("y", 890).attr("text-anchor", "middle")
  .attr("fill", "#dcdcdc").attr("font-size", 15).text("Date (UTC)");
svg.append("text").attr("x", 180).attr("y", 907).attr("fill", "#dcdcdc").attr("font-size", 23.5)
  .text("ECMWF Ensemble, 48.75N, 2.25E");
svg.append("text").attr("x", 1190).attr("y", 907).attr("text-anchor", "end").attr("fill", "#dcdcdc").attr("font-size", 23.5)
  .text("Wetterzentrale.de");

const lg = svg.append("g").attr("font-size", 15).attr("fill", "#dcdcdc");
function legendItem(x0, x1, y, color, w, label) {
  lg.append("line").attr("x1", x0).attr("x2", x1).attr("y1", y).attr("y2", y)
    .attr("stroke", color).attr("stroke-width", w);
  const t = lg.append("text").attr("x", x1 + 1).attr("y", y + 5.5);
  label.split("\n").forEach((s, j) => t.append("tspan").attr("x", x1 + 1).attr("dy", j ? 16 : 0).text(s));
}
memberNames.forEach((name, k) => {
  const row = Math.floor(k / 2), col = k % 2;
  const y = 60.7 + 22.45 * row;
  if (col === 0) legendItem(0, 12, y, memberColors[k], 2, name);
  else legendItem(80, 96, y, memberColors[k], 2, name);
});
const yCtl = 60.7 + 22.45 * 25;
legendItem(0, 12, yCtl, "#1010ff", 2.5, "Control");
legendItem(80, 96, yCtl, "#ffffff", 2.5, "Ens. mean");
legendItem(80, 96, 663, "#e8403c", 2.5, "1991-2020\nmean");
legendItem(0, 12, 684, "#22dd22", 2.5, "Oper");
</script>
</body>
</html>
